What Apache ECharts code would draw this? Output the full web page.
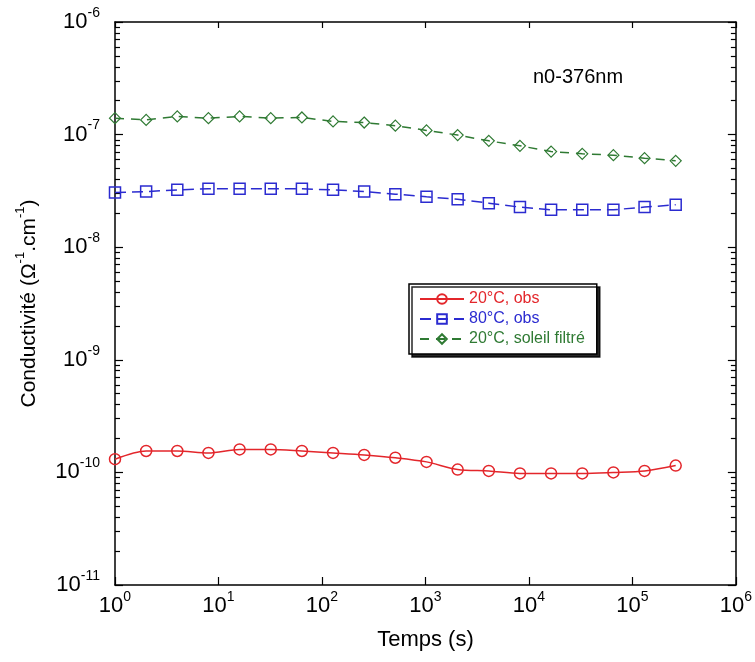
<!DOCTYPE html>
<html><head><meta charset="utf-8">
<script src="https://cdn.jsdelivr.net/npm/echarts@6/dist/echarts.min.js"></script>
<style>html,body{margin:0;padding:0;background:#fff}#c{width:755px;height:662px}</style>
</head><body><div id="c"></div>
<script>
// Time (s)
const times = [1,2,4,8,16,32,64,128,256,512,1024,2048,4096,8192,16384,32768,65536,131072,262144];
// Conductivity (Ohm^-1.cm^-1)
const obs20 = [1.31e-10,1.55e-10,1.55e-10,1.49e-10,1.60e-10,1.60e-10,1.55e-10,1.49e-10,1.43e-10,1.35e-10,1.24e-10,1.06e-10,1.03e-10,0.98e-10,0.98e-10,0.98e-10,1.00e-10,1.03e-10,1.15e-10];
const obs80 = [3.06e-8,3.12e-8,3.23e-8,3.30e-8,3.30e-8,3.30e-8,3.30e-8,3.23e-8,3.12e-8,2.96e-8,2.80e-8,2.67e-8,2.46e-8,2.27e-8,2.15e-8,2.15e-8,2.15e-8,2.27e-8,2.38e-8];
const sun20 = [1.40e-7,1.35e-7,1.45e-7,1.40e-7,1.45e-7,1.40e-7,1.42e-7,1.31e-7,1.28e-7,1.20e-7,1.09e-7,9.9e-8,8.8e-8,7.95e-8,7.07e-8,6.75e-8,6.57e-8,6.18e-8,5.85e-8];
const seriesNames = ['20°C, obs','80°C, obs','20°C, soleil filtré'];
const xMajor = [1,10,100,1000,10000,100000,1000000];
const yMajor = [1e-11,1e-10,1e-9,1e-8,1e-7,1e-6];
const yMinor = [];
for (let k = -11; k < -6; k++) for (let m = 2; m <= 9; m++) yMinor.push(m * Math.pow(10, k));

const RED = '#e3262b', BLUE = '#2b2bd0', GREEN = '#2f7a33';
const FONT = 'Liberation Sans, Arial, sans-serif';
const pair = (xs, ys) => xs.map((x, i) => [x, ys[i]]);
const supFmt = v => '{b|10}{s|' + Math.round(Math.log10(v)) + '}';
const supRich = {
  b: {fontSize: 22, fontFamily: FONT, color: '#000', lineHeight: 32},
  s: {fontSize: 14, fontFamily: FONT, color: '#000', lineHeight: 12, verticalAlign: 'top'}
};
const axLine = {show: true, lineStyle: {color: '#000', width: 1.5}};

const chart = echarts.init(document.getElementById('c'), null, {renderer: 'canvas'});
chart.setOption({
  animation: false,
  backgroundColor: '#fff',
  title: {text: 'n0-376nm', left: 528, top: 62, textStyle: {fontSize: 20, fontWeight: 'normal', fontFamily: FONT, color: '#000'}},
  grid: {left: 115, right: 19, top: 22, bottom: 77},
  legend: {
    orient: 'vertical', left: 409, top: 284,
    padding: [7, 12, 7, 10], itemGap: 4, itemWidth: 44, itemHeight: 12,
    backgroundColor: '#fff', borderColor: '#000', borderWidth: 1.5,
    shadowColor: 'rgba(0,0,0,0.85)', shadowOffsetX: 3, shadowOffsetY: 3, shadowBlur: 0,
    textStyle: {fontSize: 16, fontFamily: FONT},
    data: [
      {name: seriesNames[0], textStyle: {color: RED}},
      {name: seriesNames[1], textStyle: {color: BLUE}},
      {name: seriesNames[2], textStyle: {color: GREEN}}
    ]
  },
  xAxis: [
    {type: 'log', logBase: 10, min: 1, max: 1e6, position: 'bottom',
     axisLine: axLine, splitLine: {show: false},
     axisTick: {show: true, inside: true, length: 8, lineStyle: {color: '#000', width: 1.2}, customValues: xMajor},
     axisLabel: {customValues: xMajor, formatter: supFmt, rich: supRich, margin: 5, color: '#000'},
     name: 'Temps (s)', nameLocation: 'middle', nameGap: 44,
     nameTextStyle: {fontSize: 22, fontFamily: FONT, color: '#000'}},
    {type: 'log', logBase: 10, min: 1, max: 1e6, position: 'top',
     axisLine: axLine, splitLine: {show: false},
     axisTick: {show: true, inside: true, length: 6, lineStyle: {color: '#000', width: 1.2}, customValues: xMajor},
     axisLabel: {show: false}}
  ],
  yAxis: [
    {type: 'log', logBase: 10, min: 1e-11, max: 1e-6, position: 'left',
     axisLine: axLine, splitLine: {show: false},
     axisTick: {show: true, inside: true, length: 8, lineStyle: {color: '#000', width: 1.2}, customValues: yMajor},
     axisLabel: {customValues: yMajor, formatter: supFmt, rich: supRich, margin: 15, color: '#000'},
     name: 'Conductivité (Ω{s|-1}.cm{s|-1})', nameLocation: 'middle', nameGap: 70,
     nameTextStyle: {fontSize: 21, fontFamily: FONT, color: '#000', lineHeight: 30,
       rich: {s: {fontSize: 13, fontFamily: FONT, color: '#000', lineHeight: 12, verticalAlign: 'top'}}}},
    {type: 'log', logBase: 10, min: 1e-11, max: 1e-6, position: 'left',
     axisLine: {show: false}, splitLine: {show: false},
     axisTick: {show: true, inside: true, length: 5, lineStyle: {color: '#000', width: 1.2}, customValues: yMinor},
     axisLabel: {show: false}},
    {type: 'log', logBase: 10, min: 1e-11, max: 1e-6, position: 'right',
     axisLine: axLine, splitLine: {show: false},
     axisTick: {show: true, inside: true, length: 8, lineStyle: {color: '#000', width: 1.2}, customValues: yMajor},
     axisLabel: {show: false}},
    {type: 'log', logBase: 10, min: 1e-11, max: 1e-6, position: 'right',
     axisLine: {show: false}, splitLine: {show: false},
     axisTick: {show: true, inside: true, length: 5, lineStyle: {color: '#000', width: 1.2}, customValues: yMinor},
     axisLabel: {show: false}}
  ],
  series: [
    {name: seriesNames[0], type: 'line', data: pair(times, obs20), smooth: 0.3,
     symbol: 'circle', symbolSize: 11, color: RED,
     lineStyle: {color: RED, width: 1.5},
     itemStyle: {color: 'rgba(255,255,255,0)', borderColor: RED, borderWidth: 1.5}},
    {name: seriesNames[1], type: 'line', data: pair(times, obs80),
     symbol: 'rect', symbolSize: 11, color: BLUE,
     lineStyle: {color: BLUE, width: 1.5, type: [11, 6]},
     itemStyle: {color: 'rgba(255,255,255,0)', borderColor: BLUE, borderWidth: 1.5}},
    {name: seriesNames[2], type: 'line', data: pair(times, sun20),
     symbol: 'diamond', symbolSize: [11, 11], color: GREEN,
     lineStyle: {color: GREEN, width: 1.5, type: [9, 7]},
     itemStyle: {color: 'rgba(255,255,255,0)', borderColor: GREEN, borderWidth: 1.2}}
  ]
});
</script></body></html>
